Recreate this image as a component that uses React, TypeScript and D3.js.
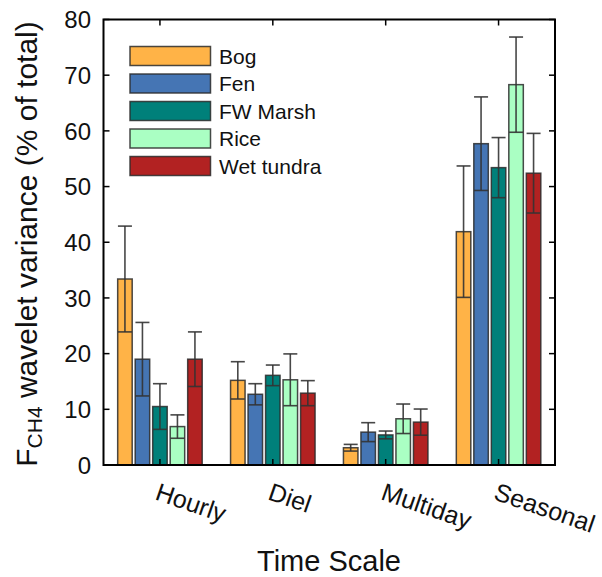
import React from "react";
import * as d3 from "d3";

const categories = ["Hourly", "Diel", "Multiday", "Seasonal"];
const seriesNames = ["Bog", "Fen", "FW Marsh", "Rice", "Wet tundra"];
const seriesColors = ["#FFB347", "#4575B4", "#00807A", "#AAFFC3", "#B22222"];
// values[series][category]
const bogValues = [33.4, 15.2, 3.1, 41.9];
const fenValues = [19.0, 12.7, 5.9, 57.7];
const marshValues = [10.5, 16.1, 5.4, 53.4];
const riceValues = [6.9, 15.3, 8.3, 68.3];
const tundraValues = [19.0, 12.9, 7.7, 52.4];
const bogErr = [9.5, 3.35, 0.6, 11.8];
const fenErr = [6.6, 1.9, 1.7, 8.4];
const marshErr = [4.1, 1.85, 0.7, 5.4];
const riceErr = [2.1, 4.65, 2.65, 8.55];
const tundraErr = [4.9, 2.25, 2.35, 7.15];
const yTicks = [0, 10, 20, 30, 40, 50, 60, 70, 80];

const values = [bogValues, fenValues, marshValues, riceValues, tundraValues];
const errors = [bogErr, fenErr, marshErr, riceErr, tundraErr];

const W = 602, H = 577;
const L = 103.5, R = 555, T = 19.5, B = 465;
const FONT = "Arial, 'Liberation Sans', sans-serif";

export default function App() {
  const x = d3.scaleBand<string>().domain(categories).range([L, R]).padding(0);
  const y = d3.scaleLinear().domain([0, 80]).range([B, T]);
  const inner = d3
    .scaleBand<string>()
    .domain(seriesNames)
    .range([-43.75, 43.75])
    .paddingInner(3 / 17.5)
    .paddingOuter(3 / 35);
  const bw = inner.bandwidth();
  const cap = 14;
  const tickLen = 6;

  return (
    <svg width={W} height={H} style={{ position: "absolute", left: 0, top: 0 }}>
      <rect width={W} height={H} fill="#fff" />
      {/* bars */}
      {categories.map((c, ci) => {
        const cx = (x(c) as number) + x.bandwidth() / 2;
        return (
          <g key={c}>
            {seriesNames.map((s, si) => {
              const v = values[si][ci];
              const e = errors[si][ci];
              const bx = cx + (inner(s) as number);
              const mid = bx + bw / 2;
              return (
                <g key={s}>
                  <rect
                    x={bx}
                    y={y(v)}
                    width={bw}
                    height={B - y(v)}
                    fill={seriesColors[si]}
                    stroke="#2a2a2a"
                    strokeWidth={1.5}
                    strokeOpacity={0.85}
                  />
                  <g stroke="#333" strokeWidth={1.6} strokeOpacity={0.9}>
                    <line x1={mid} x2={mid} y1={y(v + e)} y2={y(v - e)} />
                    <line x1={mid - cap / 2} x2={mid + cap / 2} y1={y(v + e)} y2={y(v + e)} />
                    <line x1={mid - cap / 2} x2={mid + cap / 2} y1={y(v - e)} y2={y(v - e)} />
                  </g>
                </g>
              );
            })}
          </g>
        );
      })}
      {/* ticks */}
      <g stroke="#000" strokeWidth={1.5}>
        {yTicks.map((t) => (
          <g key={t}>
            <line x1={L} x2={L + tickLen} y1={y(t)} y2={y(t)} />
            <line x1={R} x2={R - tickLen} y1={y(t)} y2={y(t)} />
          </g>
        ))}
        {categories.map((c) => {
          const cx = (x(c) as number) + x.bandwidth() / 2;
          return (
            <g key={c}>
              <line x1={cx} x2={cx} y1={T} y2={T + tickLen} />
              <line x1={cx} x2={cx} y1={B} y2={B - tickLen} />
            </g>
          );
        })}
      </g>
      {/* frame */}
      <rect x={L} y={T} width={R - L} height={B - T} fill="none" stroke="#000" strokeWidth={2} />
      {/* y tick labels */}
      {yTicks.map((t) => (
        <text
          key={t}
          x={91}
          y={y(t)}
          dy="0.36em"
          textAnchor="end"
          fontFamily={FONT}
          fontSize={24}
          fill="#111"
        >
          {t}
        </text>
      ))}
      {/* x labels */}
      {categories.map((c) => {
        const cx = (x(c) as number) + x.bandwidth() / 2;
        const lx = cx - 6;
        const ly = 499;
        return (
          <text
            key={c}
            x={lx}
            y={ly}
            transform={`rotate(19, ${lx}, ${ly})`}
            fontFamily={FONT}
            fontSize={25}
            fill="#111"
          >
            {c}
          </text>
        );
      })}
      {/* axis titles */}
      <text x={329} y={571} textAnchor="middle" fontFamily={FONT} fontSize={29} fill="#111">
        Time Scale
      </text>
      <text
        transform={`translate(37, 244) rotate(-90)`}
        textAnchor="middle"
        fontFamily={FONT}
        fontSize={30}
        fill="#111"
      >
        F<tspan fontSize={21} dy={5}>CH4</tspan>
        <tspan dy={-5}> wavelet variance (% of total)</tspan>
      </text>
      {/* legend */}
      {seriesNames.map((s, i) => {
        const ly = 46.5 + i * 27.5;
        return (
          <g key={s}>
            <rect
              x={130}
              y={ly}
              width={80.5}
              height={19}
              fill={seriesColors[i]}
              stroke="#2a2a2a"
              strokeWidth={1.5}
              strokeOpacity={0.85}
            />
            <text x={219} y={ly + 9.5} dy="0.36em" fontFamily={FONT} fontSize={21} fill="#111">
              {s}
            </text>
          </g>
        );
      })}
    </svg>
  );
}
